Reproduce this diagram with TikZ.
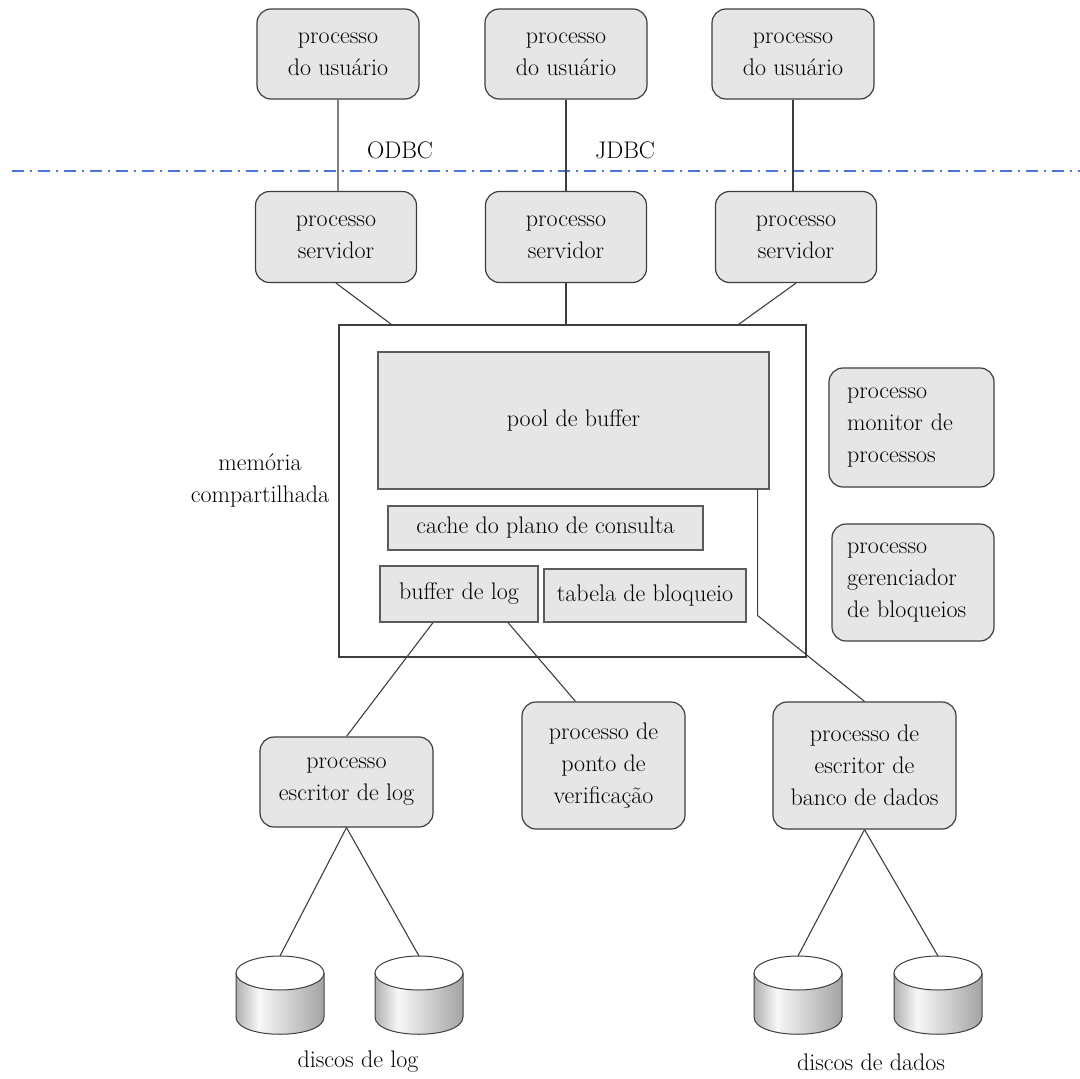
\documentclass[tikz,border=0pt]{standalone}
\usepackage{fontspec}
\definecolor{boxfill}{RGB}{230,230,230}
\definecolor{boxline}{RGB}{62,62,62}
\definecolor{sepblue}{RGB}{72,118,218}
\pgfdeclarehorizontalshading{diskbody}{100bp}{color(0bp)=(gray!70); color(25bp)=(gray!62); color(38bp)=(gray!6); color(75bp)=(gray!72); color(100bp)=(gray!72)}

\begin{document}
\begin{tikzpicture}[x=1pt, y=-1pt,
    every node/.style={font=\fontsize{24}{32}\selectfont, inner sep=0pt},
    proc/.style={draw=boxline, fill=boxfill, line width=1.2pt, rounded corners=14pt, align=center},
    area/.style={draw=boxline!85, fill=boxfill, line width=1.2pt, align=center},
    link/.style={draw=boxline, line width=1.1pt},
    diskline/.style={draw=boxline, line width=1pt}]
        \useasboundingbox (0,0) rectangle (1080,1079);
        \draw[sepblue, line width=1.5pt, dash pattern=on 12pt off 6pt on 2pt off 6pt] (12,171) -- (1080,171);
        \node[proc, minimum width=162pt, minimum height=90pt] (user1) at (338,54) {processo\\do usuário};
        \node[proc, minimum width=162pt, minimum height=90pt] (user2) at (566,54) {processo\\do usuário};
        \node[proc, minimum width=162pt, minimum height=90pt] (user3) at (793,54) {processo\\do usuário};
        \node at (400,150) {ODBC};
        \node at (625,150) {JDBC};
        \node[proc, minimum width=161pt, minimum height=91pt] (serv1) at (336,237) {processo\\servidor};
        \node[proc, minimum width=161pt, minimum height=91pt] (serv2) at (566,237) {processo\\servidor};
        \node[proc, minimum width=161pt, minimum height=91pt] (serv3) at (796,237) {processo\\servidor};
        \node[draw=boxline, line width=1.3pt, minimum width=467pt, minimum height=332pt] (shmem) at (572.5,491) {};
        \node[align=center] at (260,480) {memória\\compartilhada};
        \node[area, minimum width=391pt, minimum height=137pt] (pool) at (573.5,420.5) {pool de buffer};
        \node[area, minimum width=315pt, minimum height=44pt] (plancache) at (545.5,528) {cache do plano de consulta};
        \node[area, minimum width=158pt, minimum height=56pt] (logbuf) at (459,594) {buffer de log};
        \node[area, minimum width=202pt, minimum height=53pt] (locktab) at (645,595.5) {tabela de bloqueio};
        \node[proc, align=left, text width=129pt, inner xsep=18pt, minimum height=119pt] (monitor) at (911.5,427.5) {processo\\monitor de\\processos};
        \node[proc, align=left, text width=132pt, inner xsep=15pt, minimum height=117pt] (lockmgr) at (913,582.5) {processo\\gerenciador\\de bloqueios};
        \node[proc, minimum width=173pt, minimum height=90pt] (logwriter) at (346.5,782) {processo\\escritor de log};
        \node[proc, minimum width=163pt, minimum height=127pt] (checkpt) at (603.5,765.5) {processo de\\ponto de\\verificação};
        \node[proc, minimum width=183pt, minimum height=127pt] (dbwriter) at (864.5,765.5) {processo de\\escritor de\\banco de dados};
        \foreach \dname/\dx in {logdisk1/280, logdisk2/419, datadisk1/798, datadisk2/938} {
            \coordinate (\dname) at (\dx,956);
            \shade[shading=diskbody] (\dx-44,973) -- (\dx-44,1017) .. controls (\dx-44,1040) and (\dx+44,1040) .. (\dx+44,1017) -- (\dx+44,973) -- cycle;
            \draw[diskline] (\dx-44,973) -- (\dx-44,1017) .. controls (\dx-44,1040) and (\dx+44,1040) .. (\dx+44,1017) -- (\dx+44,973);
            \draw[diskline, fill=white] (\dx,973) ellipse [x radius=44, y radius=17];
        }
        \node at (358,1062) {discos de log};
        \node at (871,1062) {discos de dados};
        \draw[link, draw=gray] (user1.south) -- (user1.south |- serv1.north);
        \draw[link] (user2.south) -- (user2.south |- serv2.north);
        \draw[link] (user3.south) -- (user3.south |- serv3.north);
        \draw[link] (serv1.south) -- ([xshift=53pt]shmem.north west);
        \draw[link] (serv2.south) -- (serv2.south |- shmem.north);
        \draw[link] (serv3.south) -- ([xshift=-68pt]shmem.north east);
        \draw[link] ([xshift=-12pt]pool.south east) -- ++(0,126) -- (dbwriter.north);
        \draw[link] ([xshift=-26pt]logbuf.south) -- (logwriter.north);
        \draw[link] ([xshift=49pt]logbuf.south) -- ([xshift=-28pt]checkpt.north);
        \draw[link] (logwriter.south) -- (logdisk1);
        \draw[link] (logwriter.south) -- (logdisk2);
        \draw[link] (dbwriter.south) -- (datadisk1);
        \draw[link] (dbwriter.south) -- (datadisk2);
\end{tikzpicture}
\end{document}
